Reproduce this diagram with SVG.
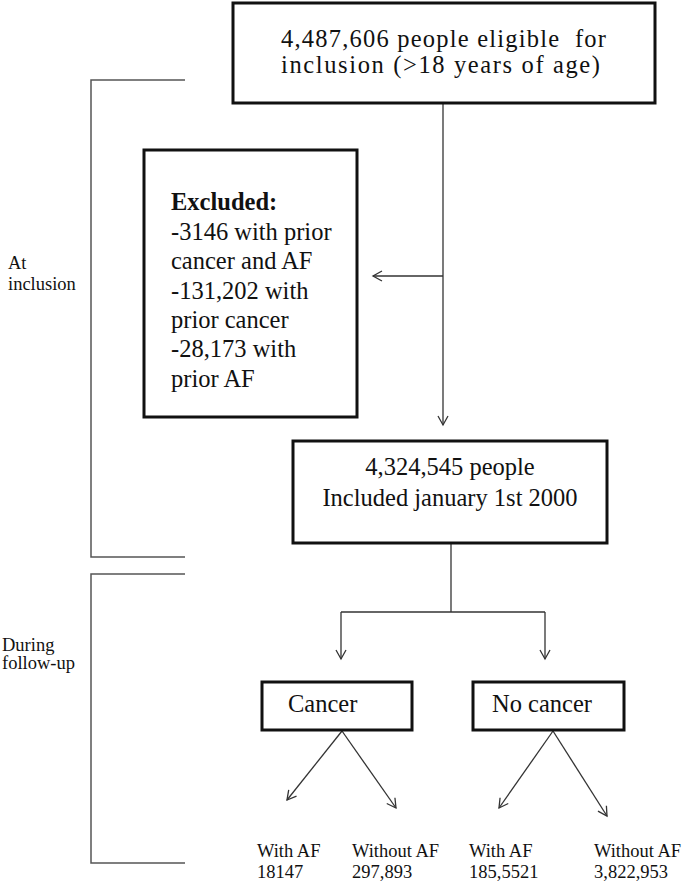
<svg xmlns="http://www.w3.org/2000/svg" width="685" height="883" viewBox="0 0 685 883">
<defs>
<marker id="ah" markerWidth="12" markerHeight="12" refX="10" refY="6" orient="auto" markerUnits="userSpaceOnUse">
<path d="M1,1 L10,6 L1,11" fill="none" stroke="#333" stroke-width="1.3"/>
</marker>
<style>
.box{fill:#fff;stroke:#111;stroke-width:3}
.t{font-family:"Liberation Serif","Times New Roman",serif;fill:#111}
.big{font-size:24.5px}
.sm{font-size:18.5px}
.ln{stroke:#333;stroke-width:1.3;fill:none}
.br{stroke:#555;stroke-width:1.5;fill:none}
</style>
</defs>
<rect width="685" height="883" fill="#fff"/>
<g id="brackets">
<path class="br" d="M185,80 H91 V557 H185"/>
<path class="br" d="M185,574 H91 V863 H185"/>
</g>
<g id="label-inclusion">
<text class="t sm" x="8" y="269">At</text>
<text class="t sm" x="8" y="290">inclusion</text>
</g>
<g id="label-followup">
<text class="t sm" x="2" y="651">During</text>
<text class="t sm" x="2" y="669">follow-up</text>
</g>
<g id="connectors">
<path class="ln" d="M443,103 V425" marker-end="url(#ah)"/>
<path class="ln" d="M443,276 H373" marker-end="url(#ah)"/>
<path class="ln" d="M451,543 V612"/>
<path class="ln" d="M341,612 H545"/>
<path class="ln" d="M341,612 V659" marker-end="url(#ah)"/>
<path class="ln" d="M545,612 V659" marker-end="url(#ah)"/>
<path class="ln" d="M342,731 L287,800" marker-end="url(#ah)"/>
<path class="ln" d="M342,731 L396,808" marker-end="url(#ah)"/>
<path class="ln" d="M553,731 L499,808" marker-end="url(#ah)"/>
<path class="ln" d="M553,731 L607,816" marker-end="url(#ah)"/>
</g>
<g id="eligible">
<rect class="box" x="233" y="3" width="422" height="100"/>
<text class="t big" x="281" y="47" textLength="325" lengthAdjust="spacing" xml:space="preserve">4,487,606 people eligible  for</text>
<text class="t big" x="281" y="73" textLength="319" lengthAdjust="spacing">inclusion (&gt;18 years of age)</text>
</g>
<g id="excluded">
<rect class="box" x="144" y="150" width="213" height="267"/>
<text class="t big" x="171" y="210" font-weight="bold">Excluded:</text>
<text class="t big" x="171" y="240">-3146 with prior</text>
<text class="t big" x="171" y="269">cancer and AF</text>
<text class="t big" x="171" y="299">-131,202 with</text>
<text class="t big" x="171" y="328">prior cancer</text>
<text class="t big" x="171" y="357">-28,173 with</text>
<text class="t big" x="171" y="387">prior AF</text>
</g>
<g id="included">
<rect class="box" x="293" y="441" width="314" height="102"/>
<text class="t big" x="450" y="475" text-anchor="middle">4,324,545 people</text>
<text class="t big" x="450" y="506" text-anchor="middle">Included january 1st 2000</text>
</g>
<g id="cancer">
<rect class="box" x="262" y="682" width="150" height="48"/>
<text class="t big" x="288" y="712">Cancer</text>
</g>
<g id="nocancer">
<rect class="box" x="473" y="682" width="151" height="48"/>
<text class="t big" x="492" y="712">No cancer</text>
</g>
<g id="outcomes">
<text class="t sm" x="257" y="857">With AF</text>
<text class="t sm" x="257" y="878">18147</text>
<text class="t sm" x="352" y="857">Without AF</text>
<text class="t sm" x="352" y="878">297,893</text>
<text class="t sm" x="469" y="857">With AF</text>
<text class="t sm" x="469" y="878">185,5521</text>
<text class="t sm" x="594" y="857">Without AF</text>
<text class="t sm" x="594" y="878">3,822,953</text>
</g>
</svg>
